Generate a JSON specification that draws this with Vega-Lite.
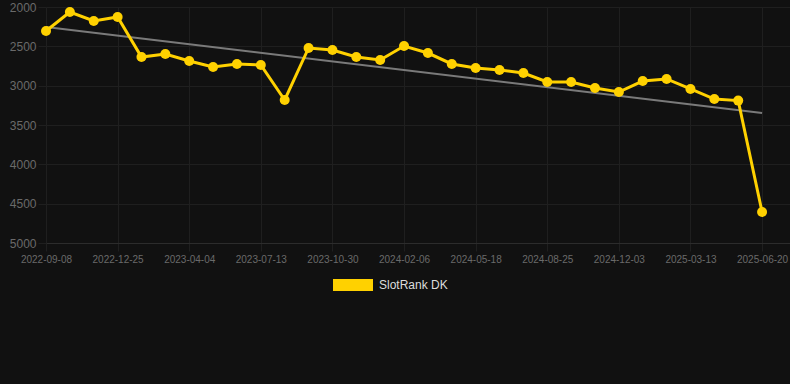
{
  "$schema": "https://vega.github.io/schema/vega-lite/v6.json",
  "autosize": "none",
  "width": 744,
  "height": 236,
  "padding": {"left": 46, "top": 7, "right": 0, "bottom": 141},
  "background": "#111111",
  "config": {
    "view": {"stroke": null},
    "font": "Liberation Sans",
    "axis": {"domain": false, "gridColor": "#1f1f1f", "tickColor": "#1f1f1f", "tickSize": 8, "labelColor": "#6a6a6a", "labelFont": "Liberation Sans"}
  },
  "datasets": {
    "ranks": [
      {"i": 0, "date": "2022-09-08", "rank": 2305},
      {"i": 1, "date": "2022-10-14", "rank": 2064},
      {"i": 2, "date": "2022-11-19", "rank": 2178},
      {"i": 3, "date": "2022-12-25", "rank": 2127},
      {"i": 4, "date": "2023-01-28", "rank": 2636},
      {"i": 5, "date": "2023-03-02", "rank": 2597},
      {"i": 6, "date": "2023-04-04", "rank": 2686},
      {"i": 7, "date": "2023-05-07", "rank": 2763},
      {"i": 8, "date": "2023-06-09", "rank": 2724},
      {"i": 9, "date": "2023-07-13", "rank": 2737},
      {"i": 10, "date": "2023-08-18", "rank": 3182},
      {"i": 11, "date": "2023-09-24", "rank": 2521},
      {"i": 12, "date": "2023-10-30", "rank": 2547},
      {"i": 13, "date": "2023-11-30", "rank": 2636},
      {"i": 14, "date": "2024-01-05", "rank": 2674},
      {"i": 15, "date": "2024-02-06", "rank": 2496},
      {"i": 16, "date": "2024-03-12", "rank": 2585},
      {"i": 17, "date": "2024-04-15", "rank": 2724},
      {"i": 18, "date": "2024-05-18", "rank": 2775},
      {"i": 19, "date": "2024-06-20", "rank": 2801},
      {"i": 20, "date": "2024-07-23", "rank": 2839},
      {"i": 21, "date": "2024-08-25", "rank": 2953},
      {"i": 22, "date": "2024-09-27", "rank": 2953},
      {"i": 23, "date": "2024-10-31", "rank": 3030},
      {"i": 24, "date": "2024-12-03", "rank": 3081},
      {"i": 25, "date": "2025-01-06", "rank": 2941},
      {"i": 26, "date": "2025-02-08", "rank": 2915},
      {"i": 27, "date": "2025-03-13", "rank": 3042},
      {"i": 28, "date": "2025-04-15", "rank": 3170},
      {"i": 29, "date": "2025-05-18", "rank": 3190},
      {"i": 30, "date": "2025-06-20", "rank": 4606}
    ],
    "trend": [
      {"i": 0, "rank": 2254},
      {"i": 30, "rank": 3347}
    ]
  },
  "encoding": {
    "x": {
      "field": "i",
      "type": "quantitative",
      "scale": {"domain": [0, 31.17], "nice": false, "zero": false},
      "axis": {
        "title": null,
        "domain": true,
        "domainColor": "#2c2c2c",
        "values": [0, 3, 6, 9, 12, 15, 18, 21, 24, 27, 30],
        "labelExpr": "['2022-09-08','2022-12-25','2023-04-04','2023-07-13','2023-10-30','2024-02-06','2024-05-18','2024-08-25','2024-12-03','2025-03-13','2025-06-20'][round(datum.value/3)]",
        "labelFontSize": 10,
        "labelPadding": 3,
        "labelFlush": false,
        "labelOverlap": false
      }
    },
    "y": {
      "field": "rank",
      "type": "quantitative",
      "scale": {"domain": [2000, 5000], "reverse": true, "nice": false, "zero": false},
      "axis": {
        "title": null,
        "values": [2000, 2500, 3000, 3500, 4000, 4500, 5000],
        "labelFontSize": 12,
        "labelPadding": 2,
        "format": "d",
        "labelFlush": false
      }
    }
  },
  "layer": [
    {
      "data": {"name": "trend"},
      "mark": {"type": "line", "color": "#7a7a7a", "strokeWidth": 2}
    },
    {
      "data": {"name": "ranks"},
      "mark": {"type": "line", "strokeWidth": 3},
      "encoding": {
        "color": {
          "datum": "SlotRank DK",
          "scale": {"range": ["#FFD100"]},
          "legend": {
            "title": null,
            "orient": "none",
            "legendX": 287,
            "legendY": 258,
            "padding": 0,
            "symbolType": "M-1,-0.3L1,-0.3L1,0.3L-1,0.3Z",
            "symbolSize": 1600,
            "symbolStrokeWidth": 0,
            "symbolFillColor": "#FFD100",
            "labelColor": "#dddddd",
            "labelFontSize": 12,
            "labelFont": "Liberation Sans",
            "labelOffset": 6
          }
        }
      }
    },
    {
      "data": {"name": "ranks"},
      "mark": {"type": "circle", "size": 100, "opacity": 1},
      "encoding": {
        "color": {"datum": "SlotRank DK"}
      }
    }
  ]
}
